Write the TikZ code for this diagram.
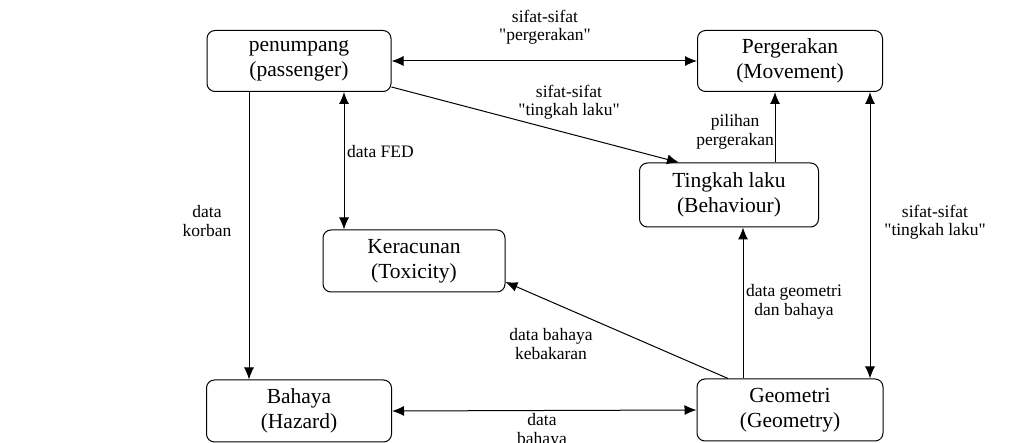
\documentclass[tikz,border=0pt]{standalone}
\usepackage{fontspec}
\newfontfamily\dgserif{Liberation Serif}
\usetikzlibrary{arrows.meta}
\begin{document}
\begin{tikzpicture}[x=1pt,y=-1pt,
  box/.style={draw, line width=1pt, rounded corners=8pt, fill=white, align=center, inner sep=0pt,
    font=\dgserif\fontsize{21.5}{25}\selectfont},
  lbl/.style={align=center, inner sep=1pt, font=\dgserif\fontsize{17.5}{18.5}\selectfont},
  con/.style={line width=1pt, -{Latex[length=12pt,width=10pt]}},
  bi/.style={line width=1pt, {Latex[length=12pt,width=10pt]}-{Latex[length=12pt,width=10pt]}}]
\useasboundingbox (0,0) rectangle (1034,443);
% boxes
\node[box, minimum width=184pt, minimum height=61pt] (pen) at (299,61) {penumpang\\(passenger)};
\node[box, minimum width=185pt, minimum height=61pt] (per) at (790,61) {Pergerakan\\(Movement)};
\node[box, minimum width=179pt, minimum height=64pt] (tin) at (729,195) {Tingkah laku\\(Behaviour)};
\node[box, minimum width=182pt, minimum height=62pt] (ker) at (414,261) {Keracunan\\(Toxicity)};
\node[box, minimum width=185pt, minimum height=62pt] (bah) at (299,411) {Bahaya\\(Hazard)};
\node[box, minimum width=186pt, minimum height=62pt] (geo) at (790,410) {Geometri\\(Geometry)};
% connectors
\draw[bi] (pen.east) -- (per.west);
\draw[con] ([yshift=-26pt]pen.east) -- ([xshift=-50pt]tin.north);
\draw[bi] ([xshift=45pt]pen.south) -- ([xshift=-70pt]ker.north);
\draw[con] ([xshift=-50pt]pen.south) -- ([xshift=-50pt]bah.north);
\draw[con] ([xshift=46pt]tin.north) -- ([xshift=-15pt]per.south);
\draw[bi] ([xshift=80pt]per.south) -- ([xshift=80pt]geo.north);
\draw[con] ([xshift=-47pt]geo.north) -- ([xshift=14pt]tin.south);
\draw[con] ([xshift=-62pt]geo.north) -- ([yshift=-21pt]ker.east);
\draw[bi] (bah.east) -- (geo.west);
% labels
\node[lbl] (l1) at (545,27) {sifat-sifat\\"pergerakan"};
\node[lbl] (l2) at (569,102) {sifat-sifat\\"tingkah laku"};
\node[lbl, anchor=west] (l3) at (346,152) {data FED};
\node[lbl] (l4) at (207,221) {data\\korban};
\node[lbl, anchor=east] (l5) at (775,132) {pilihan\\pergerakan};
\node[lbl] (l6) at (935,222) {sifat-sifat\\"tingkah laku"};
\node[lbl] (l7) at (794,302) {data geometri\\dan bahaya};
\node[lbl] (l8) at (551,344) {data bahaya\\kebakaran};
\node[lbl] (l9) at (542,431) {data\\bahaya};
\end{tikzpicture}
\end{document}
